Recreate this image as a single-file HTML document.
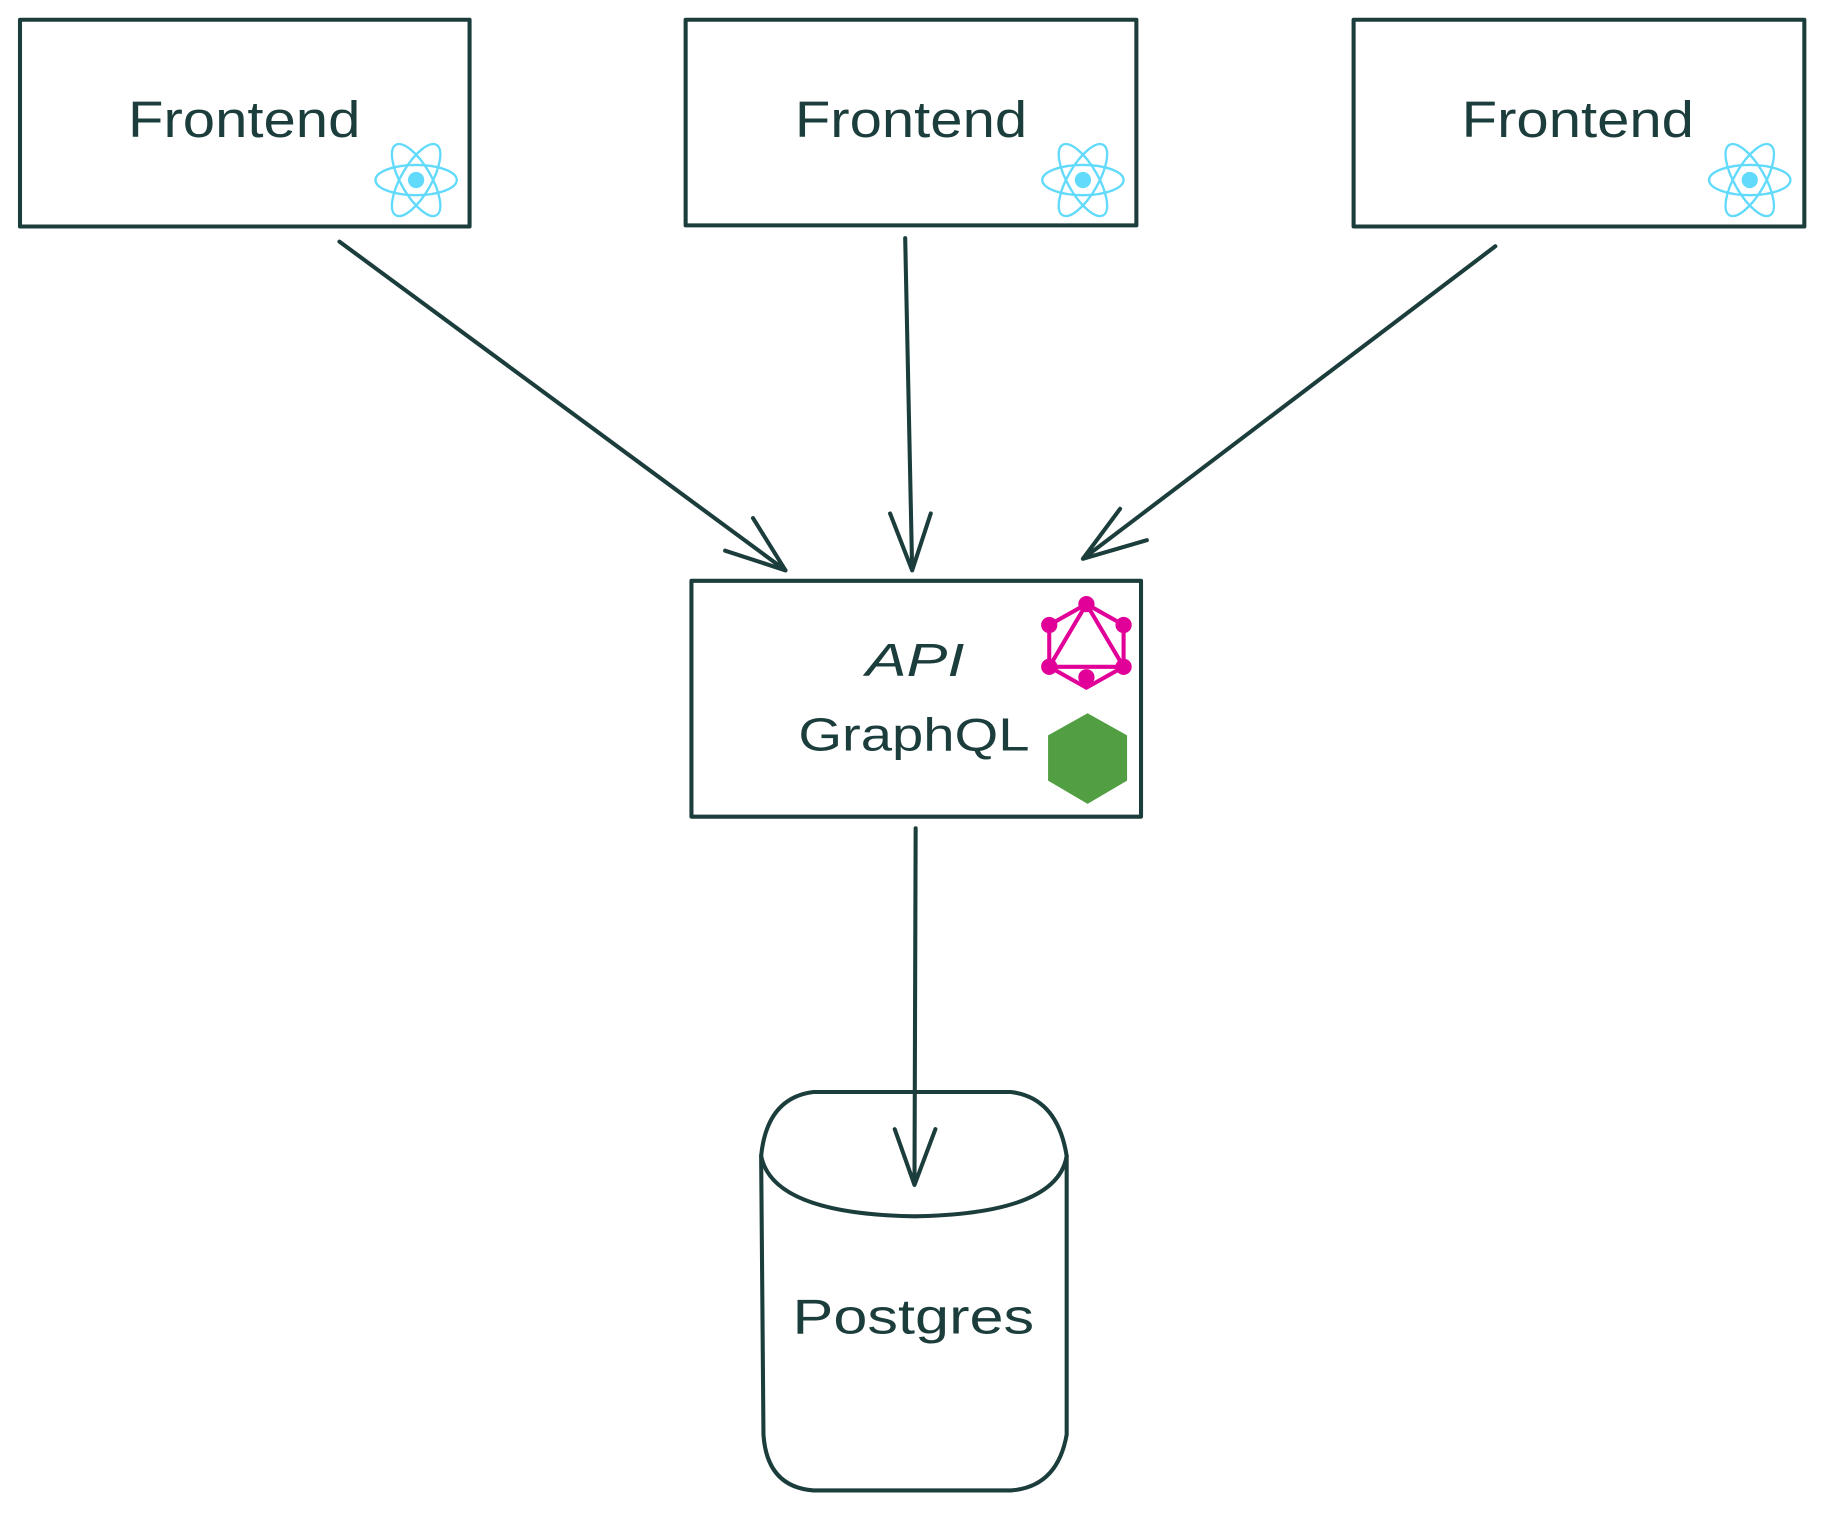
<!DOCTYPE html>
<html><head><meta charset="utf-8"><style>
html,body{margin:0;padding:0;background:#fff;}
svg{display:block;}
text{font-family:"Liberation Sans",sans-serif;fill:#1b3d3b;}
</style></head><body>
<svg width="1822" height="1516" viewBox="0 0 1568 1305" xmlns="http://www.w3.org/2000/svg">
<defs>
<g id="react" fill="none" stroke="#61dafb" stroke-width="2">
<ellipse rx="35" ry="13"/>
<ellipse rx="35" ry="13" transform="rotate(60)"/>
<ellipse rx="35" ry="13" transform="rotate(-60)"/>
<circle r="6" fill="#61dafb"/>
</g>
</defs>
<g fill="none" stroke="#1b3d3b" stroke-width="3.5" stroke-linecap="round" stroke-linejoin="round">
<rect x="17" y="17" width="387" height="178"/>
<rect x="590" y="17" width="388" height="177"/>
<rect x="1165" y="17" width="388" height="178"/>
<rect x="595" y="500" width="387" height="203"/>
<path d="M292 208 L676 491 M624 474 L676 491 L648 446"/>
<path d="M779 205 L785 491 M766 442 L785 491 L801 442"/>
<path d="M1287 212 L932 481 M964 438 L932 481 L987 465"/>
<path d="M788 713 L787 1020 M770 972 L787 1020 L805 972"/>
<path d="M655 995 Q660 945 700 940 L870 940 Q910 945 918 995 L918 1235 Q910 1280 870 1283 L700 1283 Q660 1280 657 1235 Z"/>
<path d="M655 995 Q665 1045 787 1047 Q910 1045 918 995"/>
</g>
<text x="110" y="118" font-size="44" textLength="200" lengthAdjust="spacingAndGlyphs">Frontend</text>
<text x="684" y="118" font-size="44" textLength="200" lengthAdjust="spacingAndGlyphs">Frontend</text>
<text x="1258" y="118" font-size="44" textLength="200" lengthAdjust="spacingAndGlyphs">Frontend</text>
<text x="745" y="582" font-size="40" font-style="italic" textLength="85" lengthAdjust="spacingAndGlyphs">API</text>
<text x="687" y="646" font-size="40" textLength="199" lengthAdjust="spacingAndGlyphs">GraphQL</text>
<text x="682" y="1148" font-size="42" textLength="208" lengthAdjust="spacingAndGlyphs">Postgres</text>
<use href="#react" x="358" y="155"/>
<use href="#react" x="932" y="155"/>
<use href="#react" x="1506" y="155"/>
<g stroke="#e10098" stroke-width="3.5" fill="none">
<polygon points="935,520 967,538 967,574 935,592 903,574 903,538"/>
<polygon points="935,520 967,574 903,574"/>
</g>
<g fill="#e10098">
<circle cx="935" cy="520" r="7"/><circle cx="967" cy="538" r="7"/><circle cx="967" cy="574" r="7"/>
<circle cx="935" cy="583" r="0"/><circle cx="935" cy="583" r="7"/><circle cx="903" cy="574" r="7"/><circle cx="903" cy="538" r="7"/>
</g>
<polygon points="936,614 970,633 970,672 936,692 902,672 902,633" fill="#529e43"/>
</svg>
</body></html>
